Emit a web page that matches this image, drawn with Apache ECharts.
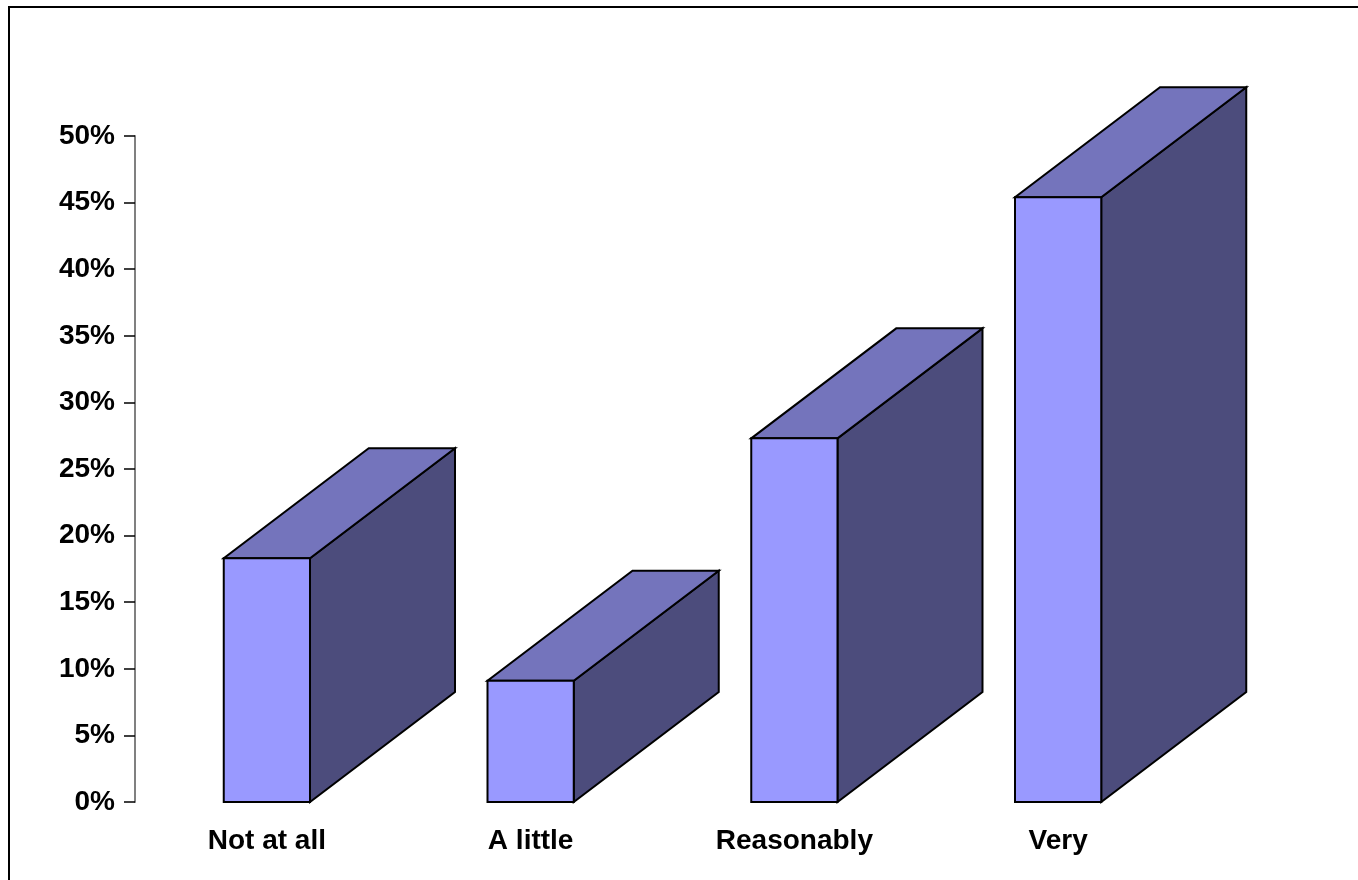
<!DOCTYPE html>
<html>
<head>
<meta charset="utf-8">
<title>Survey responses</title>
<script src="https://cdn.jsdelivr.net/npm/echarts@6/dist/echarts.min.js"></script>
<style>
  html, body { margin: 0; padding: 0; background: #fff; }
  #chart { width: 1358px; height: 880px; }
</style>
</head>
<body>
<div id="chart"></div>
<script>
// Response categories and share of respondents (%)
const categories = ['Not at all', 'A little', 'Reasonably', 'Very'];
const shares = [18.3, 9.1, 27.3, 45.4];

// Value axis range and step (%)
const axisMin = 0;
const axisMax = 50;
const axisStep = 5;

// Box face colours
const FRONT = '#9999FF';
const TOP = '#7474BC';
const SIDE = '#4C4C7C';
const EDGE = '#000000';

// Pixel offset of the box's back face (depth illusion)
const DEPTH_X = 145;
const DEPTH_Y = 110;
const BAR_RATIO = 0.327;

const FONT = '"Liberation Sans", Arial, sans-serif';

const chart = echarts.init(document.getElementById('chart'), null, { renderer: 'canvas' });

function renderBox(params, api) {
  const idx = api.value(0);
  const topPt = api.coord([idx, api.value(1)]);
  const basePt = api.coord([idx, axisMin]);
  const w = api.size([1, 0])[0] * BAR_RATIO;
  const xl = topPt[0] - w / 2;
  const xr = topPt[0] + w / 2;
  const yt = topPt[1];
  const yb = basePt[1];
  const edge = { stroke: EDGE, lineWidth: 2, lineJoin: 'miter' };
  return {
    type: 'group',
    children: [
      {
        type: 'polygon',
        shape: { points: [[xr, yt], [xr + DEPTH_X, yt - DEPTH_Y], [xr + DEPTH_X, yb - DEPTH_Y], [xr, yb]] },
        style: Object.assign({ fill: SIDE }, edge)
      },
      {
        type: 'polygon',
        shape: { points: [[xl, yt], [xr, yt], [xr + DEPTH_X, yt - DEPTH_Y], [xl + DEPTH_X, yt - DEPTH_Y]] },
        style: Object.assign({ fill: TOP }, edge)
      },
      {
        type: 'rect',
        shape: { x: xl, y: yt, width: w, height: yb - yt },
        style: Object.assign({ fill: FRONT }, edge)
      }
    ]
  };
}

chart.setOption({
  animation: false,
  backgroundColor: '#ffffff',
  graphic: [
    {
      type: 'rect',
      shape: { x: 9, y: 7, width: 1500, height: 1000 },
      style: { fill: 'none', stroke: '#000', lineWidth: 2 },
      silent: true,
      z: -10
    }
  ],
  grid: { left: 135, right: 168, top: 136, bottom: 78, containLabel: false },
  xAxis: {
    type: 'category',
    data: categories,
    axisLine: { show: false },
    axisTick: { show: false },
    axisLabel: {
      margin: 25,
      color: '#000',
      fontFamily: FONT,
      fontWeight: 'bold',
      fontSize: 28,
      lineHeight: 28
    },
    splitLine: { show: false }
  },
  yAxis: {
    type: 'value',
    min: axisMin,
    max: axisMax,
    interval: axisStep,
    axisLine: { show: true, lineStyle: { color: '#808080', width: 2 } },
    axisTick: { show: true, length: 11, lineStyle: { color: '#000', width: 1.5 } },
    axisLabel: {
      formatter: '{value}%',
      margin: 20,
      padding: [6, 0, 0, 0],
      color: '#000',
      fontFamily: FONT,
      fontWeight: 'bold',
      fontSize: 28
    },
    splitLine: { show: false }
  },
  series: [
    {
      type: 'custom',
      renderItem: renderBox,
      clip: false,
      encode: { x: 0, y: 1 },
      data: shares.map((v, i) => [i, v])
    }
  ]
});
</script>
</body>
</html>
